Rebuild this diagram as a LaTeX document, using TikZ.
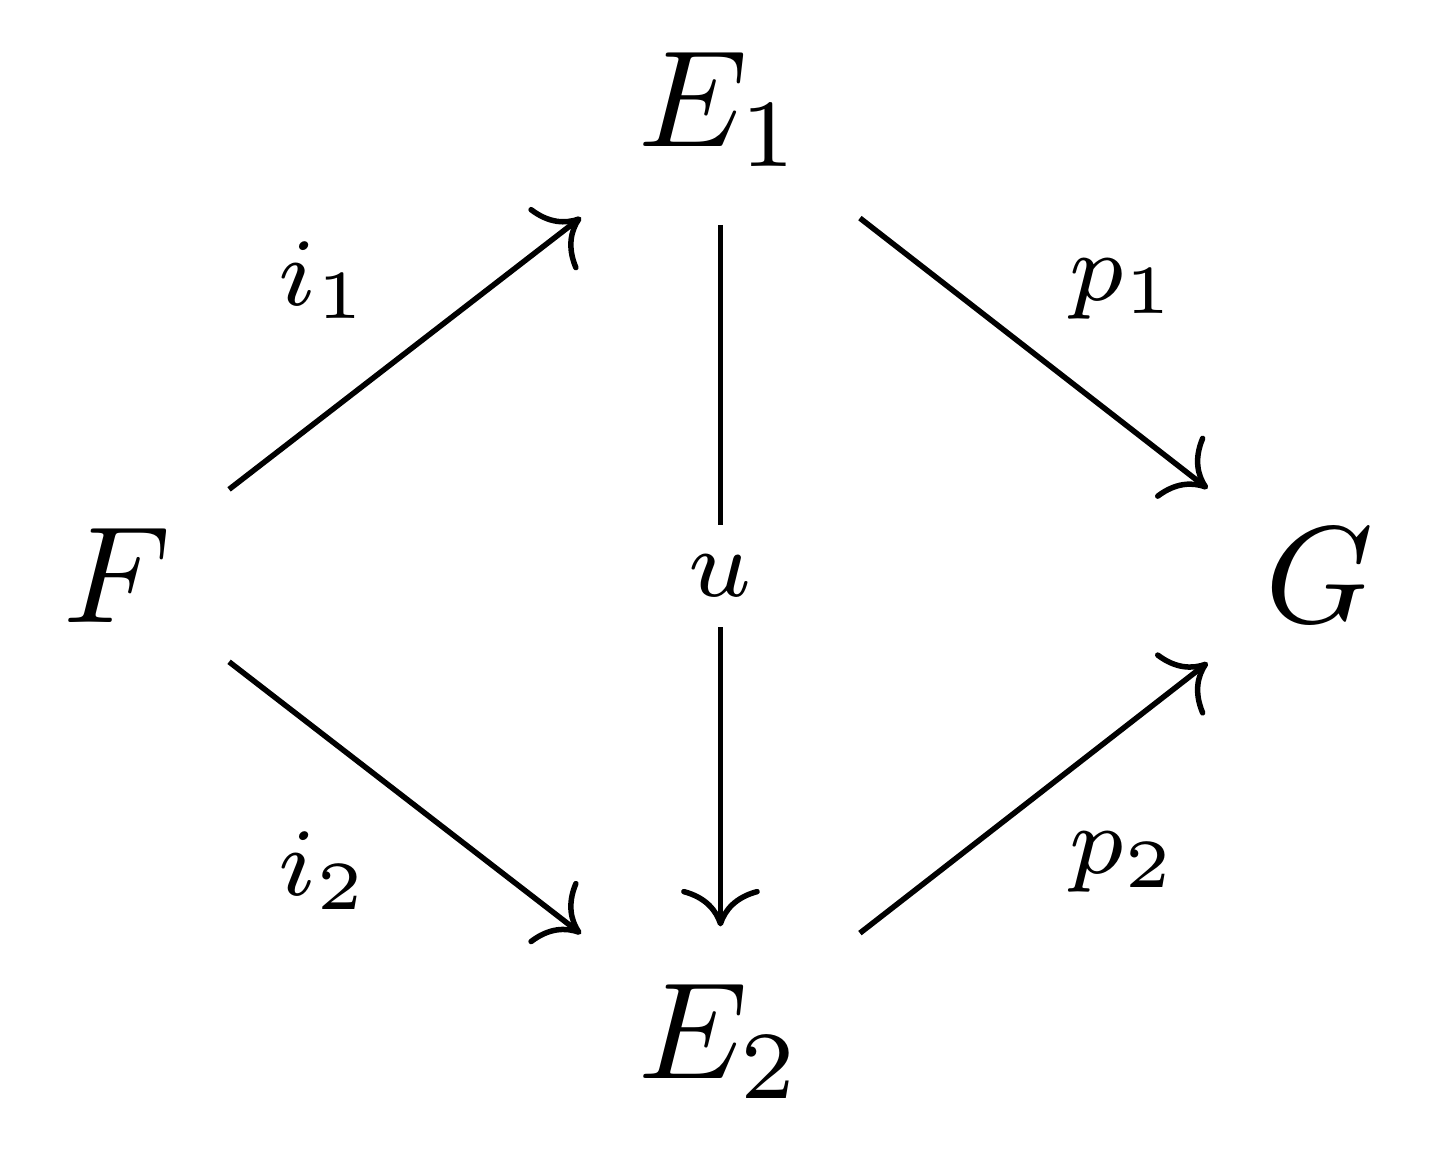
\documentclass[tikz,border=0pt]{standalone}
\usepackage{amsmath,amssymb}
\usepackage{tikz}
\usetikzlibrary{arrows.meta}

\begin{document}
\begin{tikzpicture}[
      inner sep=4pt,
      >={To[scale=1.1]},
      lbl/.style={font=\scriptsize,inner sep=2.3pt},
      desc/.style={font=\scriptsize,fill=white,inner sep=2.2pt}
    ]
    \useasboundingbox (-0.30,-1.476) rectangle (3.37,1.47);
    \node (F) at (0,0) {$F$};
    \node (E1) at (1.54,1.19) {$E_1$};
    \node (G) at (3.07,0) {$G$};
    \node (E2) at (1.54,-1.19) {$E_2$};
    \draw[->] (F) -- node[lbl,above left] {$i_1$} (E1);
    \draw[->] (F) -- node[lbl,below left] {$i_2$} (E2);
    \draw[->] (E1) -- node[desc] {$u$} (E2);
    \draw[->] (E1) -- node[lbl,above right] {$p_1$} (G);
    \draw[->] (E2) -- node[lbl,below right] {$p_2$} (G);
  \end{tikzpicture}
\end{document}
